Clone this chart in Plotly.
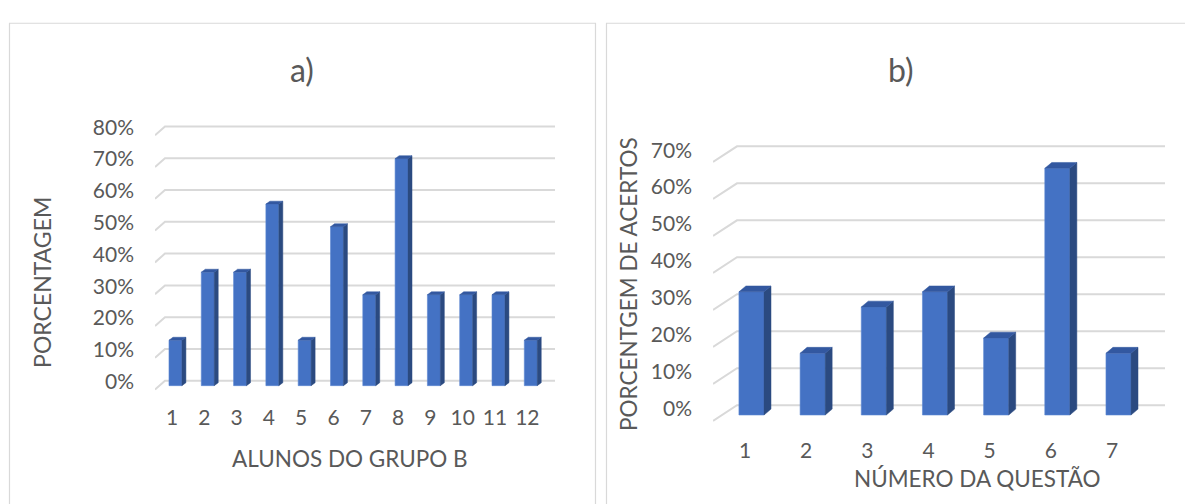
import plotly.graph_objects as go

# ---------------- data ----------------
alunos = ["1", "2", "3", "4", "5", "6", "7", "8", "9", "10", "11", "12"]
pct_alunos = [14.3, 35.7, 35.7, 57.1, 14.3, 50.0, 28.6, 71.4, 28.6, 28.6, 28.6, 14.3]

questoes = ["1", "2", "3", "4", "5", "6", "7"]
pct_questoes = [33.3, 16.7, 29.2, 33.3, 20.8, 66.7, 16.7]

ticks_a = [0, 10, 20, 30, 40, 50, 60, 70, 80]
ticks_b = [0, 10, 20, 30, 40, 50, 60, 70]

W, H = 1185, 504
FRONT = "#4472C4"
SIDE = "#2B4A80"
TOP = "#3358A0"
GRID = "#D9D9D9"
TXT = "#595959"
FONT = "Lato, Carlito, 'Open Sans', sans-serif"

fig = go.Figure()


def add_panel(xref, yref, cats, vals, ticks, bw, off, dx, dy, gx0f, gx0b, gx1, gff, gbb):
    xs = list(range(1, len(cats) + 1))
    # perspective gridlines (back wall), drawn below the bars
    for t in ticks:
        path = (f"M {gx0f},{t - gff} L {gx0b},{t + gbb} L {gx1},{t + gbb}")
        fig.add_shape(type="path", path=path, xref=xref, yref=yref,
                      line=dict(color=GRID, width=2), layer="below")
    # front faces
    fig.add_trace(go.Bar(x=xs, y=vals, width=bw, offset=off - bw / 2,
                         marker=dict(color=FRONT, line=dict(color="#5B86D2", width=0.6)),
                         showlegend=False, xaxis=xref, yaxis=yref))
    # side faces and top faces derived from values
    sx, sy, tx, ty = [], [], [], []
    for x, v in zip(xs, vals):
        xl = x + off - bw / 2
        xr = x + off + bw / 2
        sx += [xr, xr + dx, xr + dx, xr, xr, None]
        sy += [0, dy, v + dy, v, 0, None]
        tx += [xl, xl + dx, xr + dx, xr, xl, None]
        ty += [v, v + dy, v + dy, v, v, None]
    fig.add_trace(go.Scatter(x=sx, y=sy, mode="lines", fill="toself", fillcolor=SIDE,
                             line=dict(color=SIDE, width=0.5), hoverinfo="skip",
                             showlegend=False, xaxis=xref, yaxis=yref))
    fig.add_trace(go.Scatter(x=tx, y=ty, mode="lines", fill="toself", fillcolor=TOP,
                             line=dict(color=TOP, width=0.5), hoverinfo="skip",
                             showlegend=False, xaxis=xref, yaxis=yref))


# panel a
add_panel("x", "y", alunos, pct_alunos, ticks_a, bw=0.40, off=0.107, dx=0.124, dy=0.92,
          gx0f=0.474, gx0b=0.783, gx1=12.857, gff=1.23, gbb=1.54)
# panel b
add_panel("x2", "y2", questoes, pct_questoes, ticks_b, bw=0.41, off=0.106, dx=0.114, dy=1.59,
          gx0f=0.477, gx0b=0.869, gx1=7.866, gff=1.59, gbb=2.65)


def px_x(p):
    return p / W


def px_y(p):
    return (H - p) / H


tickfont = dict(family=FONT, size=21, color=TXT)

fig.update_layout(
    width=W, height=H, margin=dict(l=0, r=0, t=0, b=0),
    paper_bgcolor="white", plot_bgcolor="rgba(0,0,0,0)",
    showlegend=False,
    xaxis=dict(domain=[px_x(155), px_x(555)], range=[0.474, 12.857],
               tickmode="array", tickvals=list(range(1, len(alunos) + 1)), ticktext=alunos,
               showgrid=False, zeroline=False, showline=False, ticks="",
               tickfont=tickfont, ticklabelstandoff=11),
    yaxis=dict(domain=[px_y(390), px_y(116)], range=[-2.15, 82.15],
               tickmode="array", tickvals=ticks_a, ticktext=[f"{t}%" for t in ticks_a],
               showgrid=False, zeroline=False, showline=False, ticks="",
               tickfont=tickfont, ticklabelstandoff=20, ticklabelshift=-4),
    xaxis2=dict(domain=[px_x(713), px_x(1165)], range=[0.477, 7.866], anchor="y2",
                tickmode="array", tickvals=list(range(1, len(questoes) + 1)), ticktext=questoes,
                showgrid=False, zeroline=False, showline=False, ticks="",
                tickfont=tickfont, ticklabelstandoff=12),
    yaxis2=dict(domain=[px_y(422), px_y(135)], range=[-2.38, 73.54], anchor="x2",
                tickmode="array", tickvals=ticks_b, ticktext=[f"{t}%" for t in ticks_b],
                showgrid=False, zeroline=False, showline=False, ticks="",
                tickfont=tickfont, ticklabelstandoff=20, ticklabelshift=-6),
)

# chart borders
fig.add_shape(type="rect", xref="paper", yref="paper",
              x0=px_x(9.5), x1=px_x(595.5), y0=px_y(520), y1=px_y(12.5),
              line=dict(color=GRID, width=1.2), layer="below")
fig.add_shape(type="rect", xref="paper", yref="paper",
              x0=px_x(606.5), x1=px_x(1200), y0=px_y(520), y1=px_y(12.5),
              line=dict(color=GRID, width=1.2), layer="below")

# titles and axis titles
ann = [
    dict(text="a)", x=px_x(302), y=px_y(60), size=32, angle=0),
    dict(text="b)", x=px_x(901), y=px_y(60), size=32, angle=0),
    dict(text="ALUNOS DO GRUPO B", x=px_x(350), y=px_y(457), size=22.5, angle=0),
    dict(text="NÚMERO DA QUESTÃO", x=px_x(977), y=px_y(478), size=22.5, angle=0),
    dict(text="PORCENTAGEM", x=px_x(42), y=px_y(278), size=23, angle=-90),
    dict(text="PORCENTGEM DE ACERTOS", x=px_x(629), y=px_y(279), size=22.5, angle=-90),
]
for a in ann:
    fig.add_annotation(text=a["text"], x=a["x"], y=a["y"], xref="paper", yref="paper",
                       showarrow=False, textangle=a["angle"], xanchor="center", yanchor="middle",
                       font=dict(family=FONT, size=a["size"], color=TXT))

fig.write_html("out.html")
